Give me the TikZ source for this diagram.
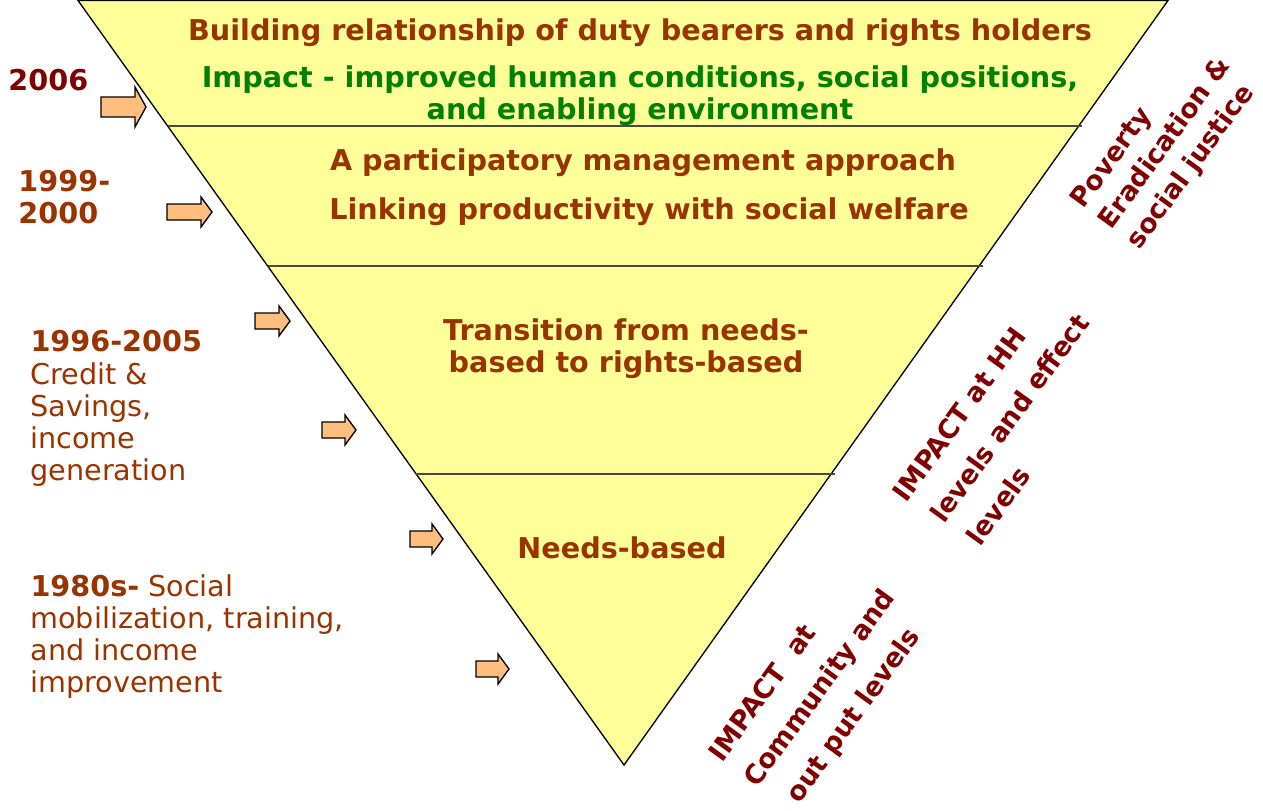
\documentclass[tikz,border=0pt]{standalone}
\usepackage{fontspec}
\setmainfont{DejaVu Sans}
\usetikzlibrary{calc}

\definecolor{darkred}{RGB}{128,0,0}
\definecolor{rustbrown}{RGB}{153,51,0}
\definecolor{impactgreen}{RGB}{0,128,0}
\definecolor{paleyellow}{RGB}{255,255,153}
\definecolor{lightorange}{RGB}{255,190,125}

\tikzset{every picture/.style={line width=0.75pt}}
\tikzset{
  bigtext/.style={font=\fontsize{21.5}{24}\selectfont\bfseries, inner sep=0.75pt},
  normtext/.style={font=\fontsize{21.5}{24}\selectfont, inner sep=0.75pt},
  sidetext/.style={font=\fontsize{20}{#1}\selectfont\bfseries, inner sep=0.75pt, color=darkred, rotate=54, align=left},
  arrowfill/.style={draw=black, fill=lightorange, line width=1pt, line join=miter},
  divider/.style={draw={rgb,255:red,72;green,72;blue,72}, line width=1.6pt}
}

\begin{document}
\begin{tikzpicture}[x=0.75pt,y=0.75pt,yscale=-1,xscale=1]
    \useasboundingbox (0,0) rectangle (1263,810);

    %Triangle
    \coordinate (tl) at (78,0.5);
    \coordinate (tr) at (1168,0.5);
    \coordinate (bt) at (624,765);
    \draw [fill=paleyellow, line width=1pt] (tl) -- (tr) -- (bt) -- cycle ;

    %Dividers
    \foreach \yy/\nm in {126/one,266/two,474/three} {
      \coordinate (l\nm) at ($(tl)!{\yy/765}!(bt)$);
      \coordinate (r\nm) at ($(tr)!{\yy/765}!(bt)+(4,0)$);
      \draw [divider] (l\nm) -- (r\nm) ;
    }

    %Block arrows
    \foreach \ax/\ay/\al/\ab/\ah in {101/107/34/10/20, 167/212/34/8/15, 255/321/24/8/15, 322/430/23/8/15, 410/539/22/8/15, 476/669/22/8/15} {
      \draw [arrowfill] (\ax,\ay) ++(0,-\ab) -- ++(\al,0) -- ++(0,\ab-\ah) -- ++(11,\ah) -- ++(-11,\ah) -- ++(0,\ab-\ah) -- ++(-\al,0) -- cycle ;
    }

    % Text Node
    \node [bigtext, color=rustbrown] (build) at (640,33) {Building relationship of duty bearers and rights holders};
    \node [bigtext, color=impactgreen, align=center] (impact) at (640,96) {Impact - improved human conditions, social positions,\\and enabling environment};
    \node [bigtext, color=rustbrown] (partic) at (643,163) {A participatory management approach};
    \node [bigtext, color=rustbrown] (linking) at (649,212) {Linking productivity with social welfare};
    \node [bigtext, color=rustbrown, align=center] (trans) at (626,349) {Transition from needs-\\based to rights-based};
    \node [bigtext, color=rustbrown] (needs) at (622,548) {Needs-based};

    % Text Node
    \node [bigtext, color=darkred, anchor=west] (y2006) at (7,80) {2006};
    \node [bigtext, color=rustbrown, anchor=west, align=left] (y1999) at (17,197) {1999-\\2000};
    \node [bigtext, color=rustbrown, anchor=north west] (y1996) at (29,329) {1996-2005};
    \node [normtext, color=rustbrown, anchor=north west, align=left] (credit) at (29,361) {Credit \&\\Savings,\\income\\generation};
    \node [normtext, color=rustbrown, anchor=north west, align=left] (y1980) at (29,573) {\textbf{1980s-} Social\\mobilization, training,\\and income\\improvement};

    % Text Node
    \node [sidetext=26] (poverty) at (1166,144) {Poverty\\Eradication \&\\social justice};
    \node [sidetext=32] (hhlevel) at (1008,420) {IMPACT at HH\\\hspace*{4pt}levels and effect\\\hspace*{6pt}levels};
    \node [sidetext=32.5] (community) at (821,689) {IMPACT~~at\\Community and\\\hspace*{9pt}out put levels};

\end{tikzpicture}
\end{document}
